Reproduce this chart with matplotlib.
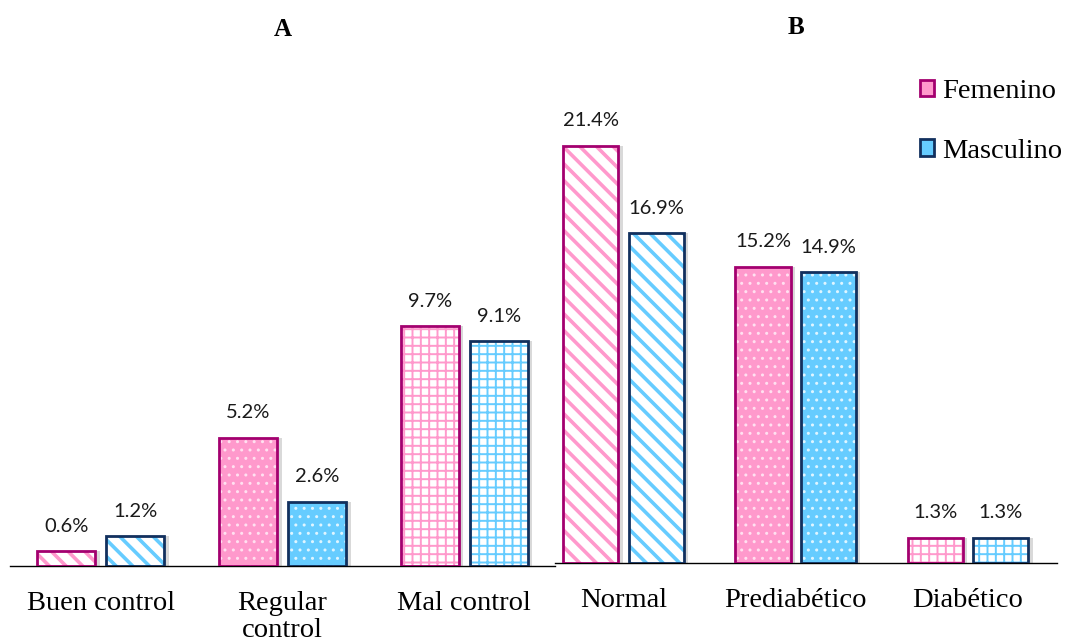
import numpy as np
import matplotlib
matplotlib.use('Agg')
import matplotlib.pyplot as plt
from matplotlib.patches import Patch

# ---------- data ----------
cats_a = ['Buen control', 'Regular\ncontrol', 'Mal control']
fem_a = [0.6, 5.2, 9.7]
masc_a = [1.2, 2.6, 9.1]

cats_b = ['Normal', 'Prediabético', 'Diabético']
fem_b = [21.4, 15.2, 1.3]
masc_b = [16.9, 14.9, 1.3]

series = ['Femenino', 'Masculino']
patterns = ['stripe', 'dots', 'grid']   # same pattern per category position in both panels

# ---------- style ----------
PINK, PINK_EDGE, PINK_DOT = '#ff99cc', '#a3006f', '#ffe0f0'
BLUE, BLUE_EDGE, BLUE_DOT = '#66ccff', '#12305e', '#dff5ff'
SERIF = 'Liberation Serif'
SANS = 'Lato'
W, H = 1065, 643


def draw_bar(ax, x, h, width, fill, edge, dot, pattern):
    if pattern == 'stripe':
        face, hcol, hatch, hlw = 'white', fill, '\\\\', 2.6
    elif pattern == 'dots':
        face, hcol, hatch, hlw = fill, dot, '..', 1.0
    else:
        face, hcol, hatch, hlw = 'white', fill, '++', 1.4
    # soft shadow
    ax.bar(x + 0.025, h, width, bottom=0, color='#00000026', linewidth=0, zorder=1)
    with plt.rc_context({'hatch.linewidth': hlw}):
        ax.bar(x, h, width, color=face, edgecolor=hcol, hatch=hatch, linewidth=0, zorder=2)
    ax.bar(x, h, width, color='none', edgecolor=edge, linewidth=2.0, zorder=4)


def panel(ax, cats, fem, masc, title, xlim, ylim):
    x = np.arange(len(cats))
    w, off = 0.32, 0.19
    for i in range(len(cats)):
        draw_bar(ax, x[i] - off, fem[i], w, PINK, PINK_EDGE, PINK_DOT, patterns[i])
        draw_bar(ax, x[i] + off, masc[i], w, BLUE, BLUE_EDGE, BLUE_DOT, patterns[i])
        for xx, v in ((x[i] - off, fem[i]), (x[i] + off, masc[i])):
            ax.annotate(f'{v:.1f}%', (xx, v), xytext=(0, 18), textcoords='offset points',
                        ha='center', va='center', fontsize=14.5, family=SANS, color='#1a1a1a')
    ax.set_xlim(*xlim)
    ax.set_ylim(*ylim)
    ax.set_xticks(x)
    ax.set_xticklabels(cats, fontsize=20.5, family=SERIF, linespacing=1.1, va='top')
    ax.tick_params(axis='x', length=0, pad=18)
    ax.set_yticks([])
    for s in ('top', 'left', 'right'):
        ax.spines[s].set_visible(False)
    ax.spines['bottom'].set_linewidth(1.0)
    ax.patch.set_alpha(0)
    ax.text(1, 1, title, transform=ax.get_xaxis_transform(), ha='center', va='center',
            fontsize=18, fontweight='bold', family=SERIF)


fig = plt.figure(figsize=(W / 100, H / 100), dpi=100)

ax_a = fig.add_axes([10 / W, 77 / H, 545 / W, 466 / H])
panel(ax_a, cats_a, fem_a, masc_a, 'A', (-0.5, 2.5), (0, 466 / 24.7))
# place title at ~30 px from top
ax_a.texts[-1].set_position((1, (H - 30 - 77) / 466))

ax_b = fig.add_axes([555 / W, 80 / H, 502 / W, 463 / H])
panel(ax_b, cats_b, fem_b, masc_b, 'B', (-0.398, 2.517), (0, 463 / 19.5))
ax_b.texts[-1].set_position((1, (H - 27 - 80) / 463))

handles = [Patch(facecolor=PINK, edgecolor=PINK_EDGE, linewidth=2, label=series[0]),
           Patch(facecolor=BLUE, edgecolor=BLUE_EDGE, linewidth=2, label=series[1])]
fig.legend(handles=handles, loc='upper right', bbox_to_anchor=(1074 / W, (H - 68) / H),
           frameon=False, prop={'family': SERIF, 'size': 20.5},
           handlelength=0.5, handleheight=0.5, handletextpad=0.3, labelspacing=1.2,
           borderaxespad=0)

fig.savefig('out.png', dpi=100)
